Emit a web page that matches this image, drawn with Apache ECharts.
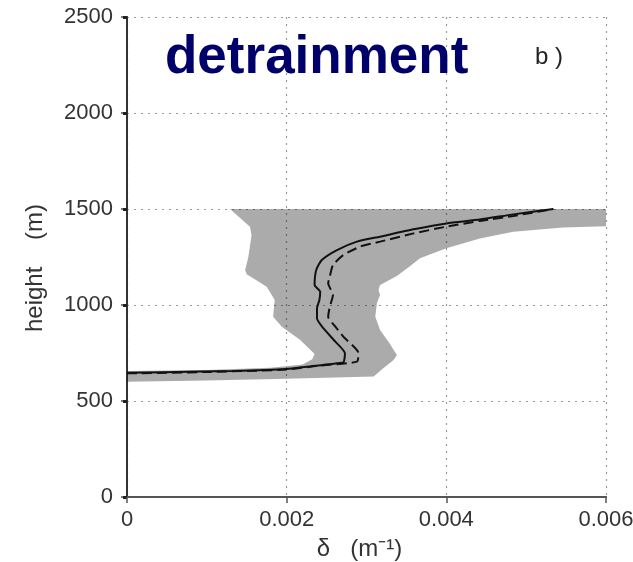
<!DOCTYPE html>
<html>
<head>
<meta charset="utf-8">
<title>detrainment</title>
<script src="https://cdn.jsdelivr.net/npm/echarts@6/dist/echarts.min.js"></script>
<style>
  html, body { margin: 0; padding: 0; background: #ffffff; }
  #chart { width: 633px; height: 562px; }
</style>
</head>
<body>
<div id="chart"></div>
<script>
// Axis extents and tick spacing
const deltaRange = [0, 0.006];
const deltaStep = 0.002;
const heightRange = [0, 2500];
const heightStep = 500;

// Spread of detrainment rates: outer (right / lower) edge, top to bottom [delta, height]
const spreadOuterEdge = [
  [0.0060, 1500], [0.0060, 1410], [0.00546, 1404], [0.00484, 1382], [0.00442, 1347],
  [0.00400, 1295], [0.00367, 1243], [0.00354, 1200], [0.00338, 1151], [0.00317, 1104],
  [0.00315, 1078], [0.00317, 1052], [0.00313, 1009], [0.00311, 939], [0.00317, 870],
  [0.00329, 800], [0.00338, 740], [0.00334, 714], [0.00321, 670], [0.00309, 627],
  [0.0020, 616], [0.0010, 607], [0.0, 600]
];
// Inner (left / upper) edge, bottom to top [delta, height]
const spreadInnerEdge = [
  [0.0, 656], [0.0010, 662], [0.0018, 673], [0.0022, 690], [0.00232, 718],
  [0.00235, 745], [0.00217, 818], [0.00194, 887], [0.00183, 939], [0.00185, 1026],
  [0.00175, 1095], [0.00150, 1160], [0.00148, 1182], [0.00152, 1250], [0.00156, 1365],
  [0.00154, 1408], [0.00129, 1500]
];

// Profile 1 (solid) [delta, height]
const profileSolid = [
  [0.0, 647], [0.00091, 653], [0.00133, 656], [0.00200, 667], [0.00225, 679],
  [0.00271, 701], [0.00272, 710], [0.00273, 748], [0.00261, 809], [0.00246, 879],
  [0.00238, 931], [0.00238, 983], [0.00241, 1026], [0.00242, 1069], [0.00235, 1104],
  [0.00237, 1182], [0.00244, 1234], [0.00263, 1286], [0.00288, 1330], [0.00317, 1356],
  [0.00359, 1394], [0.00400, 1425], [0.00442, 1445], [0.00484, 1472], [0.00534, 1500]
];
// Profile 2 (dashed) [delta, height]
const profileDashed = [
  [0.0, 644], [0.0010, 651], [0.0020, 664], [0.00240, 684], [0.00288, 705],
  [0.00290, 748], [0.00271, 835], [0.00261, 887], [0.00252, 939], [0.00254, 991],
  [0.00258, 1052], [0.00252, 1113], [0.00254, 1147], [0.00258, 1208], [0.00271, 1260],
  [0.00292, 1304], [0.00317, 1330], [0.00359, 1373], [0.00400, 1408], [0.00442, 1438],
  [0.00484, 1464], [0.00534, 1500]
];

const spreadPolygon = spreadOuterEdge.concat(spreadInnerEdge);

const FONT = '"Liberation Sans", Arial, Helvetica, sans-serif';
const axisColor = '#555';
const labelColor = '#333';

const chart = echarts.init(document.getElementById('chart'), null, { renderer: 'canvas' });

chart.setOption({
  backgroundColor: '#ffffff',
  animation: false,
  title: {
    text: 'detrainment',
    left: 160,
    top: 27,
    textStyle: { color: '#00006b', fontFamily: FONT, fontWeight: 'bold', fontSize: 53 }
  },
  graphic: [{
    type: 'text',
    left: 535,
    top: 45,
    style: { text: 'b )', fill: '#222', font: '24px ' + FONT }
  }],
  grid: { left: 127, right: 27, top: 17, bottom: 65, containLabel: false, outerBoundsMode: 'none' },
  xAxis: [{
    type: 'value',
    min: deltaRange[0], max: deltaRange[1], interval: deltaStep,
    name: 'δ   (m⁻¹)',
    nameLocation: 'middle',
    nameGap: 40,
    nameTextStyle: { color: labelColor, fontFamily: FONT, fontSize: 24, padding: [0, 14, 0, 0] },
    axisLine: { show: true, onZero: false, lineStyle: { color: axisColor, width: 2 } },
    axisTick: { show: true, length: 6, lineStyle: { color: axisColor, width: 1.5 } },
    axisLabel: { color: labelColor, fontFamily: FONT, fontSize: 22, margin: 12 },
    splitLine: { show: true, lineStyle: { color: '#9a9a9a', width: 1.2, type: [2, 5] } }
  }, {
    type: 'value', position: 'top',
    min: deltaRange[0], max: deltaRange[1], interval: deltaStep,
    axisLine: { show: true, lineStyle: { color: axisColor, width: 2 } },
    axisTick: { show: false }, axisLabel: { show: false }, splitLine: { show: false }
  }],
  yAxis: [{
    type: 'value',
    min: heightRange[0], max: heightRange[1], interval: heightStep,
    name: 'height    (m)',
    nameLocation: 'middle',
    nameGap: 80,
    nameTextStyle: { color: labelColor, fontFamily: FONT, fontSize: 24, padding: [0, 22, 0, 0] },
    axisLine: { show: true, onZero: false, lineStyle: { color: axisColor, width: 2 } },
    axisTick: { show: true, length: 6, lineStyle: { color: axisColor, width: 1.5 } },
    axisLabel: {
      color: labelColor, fontFamily: FONT, fontSize: 22, margin: 14,
      formatter: function (v) { return String(v); }
    },
    splitLine: { show: true, lineStyle: { color: '#9a9a9a', width: 1.2, type: [2, 5] } }
  }, {
    type: 'value', position: 'right',
    min: heightRange[0], max: heightRange[1], interval: heightStep,
    axisLine: { show: true, lineStyle: { color: '#333', width: 2 } },
    axisTick: { show: true, inside: true, length: 4, lineStyle: { color: '#222', width: 3 } },
    axisLabel: { show: false }, splitLine: { show: false }
  }],
  series: [
    {
      name: 'spread',
      type: 'custom',
      silent: true,
      clip: true,
      z: 1,
      data: spreadPolygon,
      renderItem: function (params, api) {
        if (params.dataIndex !== 0) return null;
        return {
          type: 'polygon',
          shape: { points: spreadPolygon.map(function (p) { return api.coord(p); }) },
          style: { fill: 'rgba(0,0,0,0.33)' }
        };
      }
    },
    {
      name: 'profile 1',
      type: 'line',
      data: profileSolid,
      showSymbol: false,
      smooth: 0.2,
      z: 3,
      lineStyle: { color: '#111', width: 2 }
    },
    {
      name: 'profile 2',
      type: 'line',
      data: profileDashed,
      showSymbol: false,
      smooth: 0.2,
      z: 3,
      lineStyle: { color: '#111', width: 2, type: [10, 5] }
    }
  ]
});
</script>
</body>
</html>
